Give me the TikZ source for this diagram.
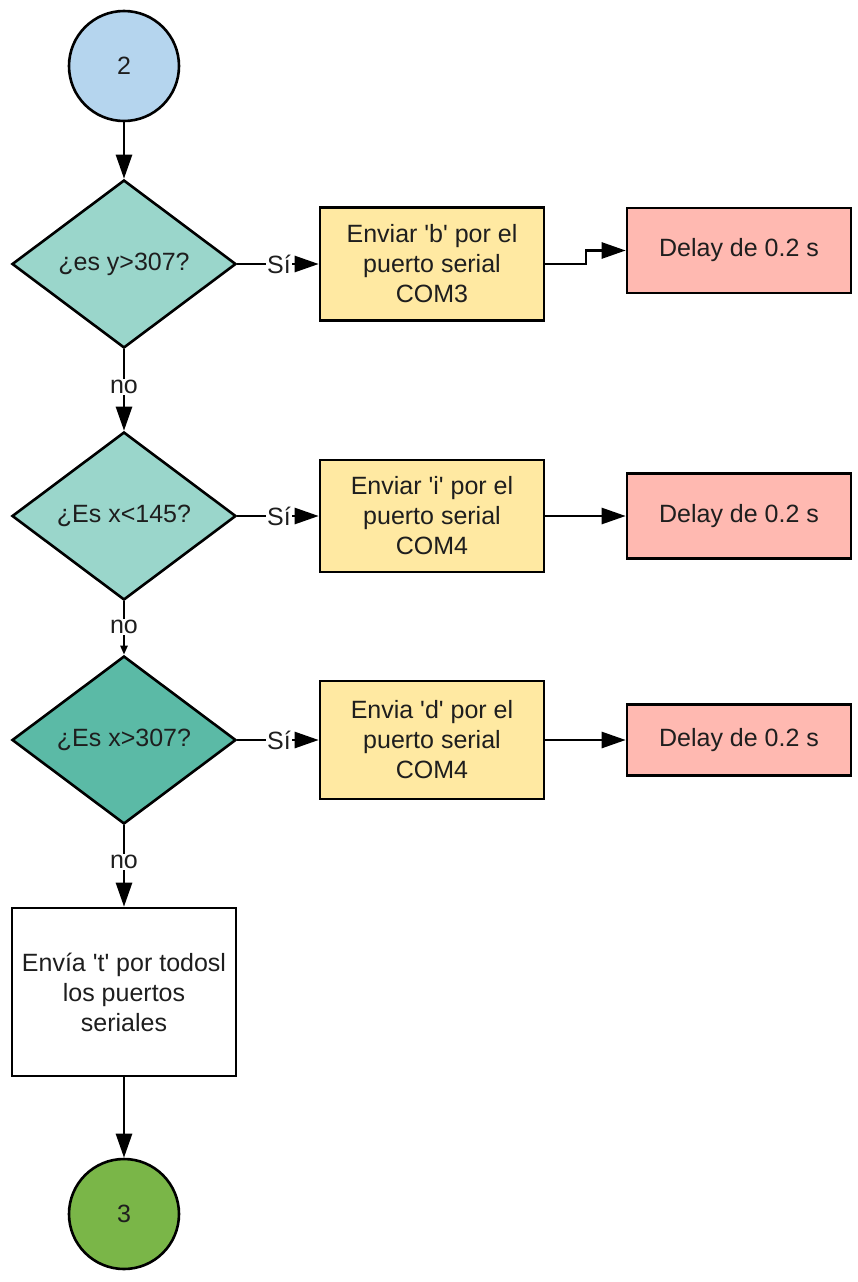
\documentclass[tikz,border=0pt]{standalone}
\usepackage{fontspec}
\setmainfont{Liberation Sans}
\usetikzlibrary{shapes.geometric,arrows.meta}
\definecolor{cblue}{RGB}{181,213,238}
\definecolor{cteal}{RGB}{154,214,203}
\definecolor{cteald}{RGB}{91,186,166}
\definecolor{cyel}{RGB}{255,233,162}
\definecolor{cpink}{RGB}{255,185,177}
\definecolor{cgreen}{RGB}{122,182,72}
\definecolor{ctext}{RGB}{30,30,30}
\newcommand{\sq}{\textquotesingle}
\begin{document}
\begin{tikzpicture}[x=1pt,y=-1pt,
  base/.style={draw=black,line width=2.6pt,text=ctext,font=\fontsize{25}{30}\selectfont,align=center,inner sep=0pt},
  term/.style={base,circle,minimum size=110pt},
  decision/.style={base,diamond,minimum width=224pt,minimum height=168pt},
  procbox/.style={base,rectangle,minimum width=224pt,minimum height=112pt},
  delaybox/.style={base,rectangle,minimum width=224pt,minimum height=85pt,fill=cpink},
  lbl/.style={fill=white,text=ctext,font=\fontsize{25}{26}\selectfont,inner sep=1pt},
  conn/.style={line width=2.6pt},
  arr/.style={line width=2.6pt,-{Triangle[length=24pt,width=16pt]}},
  arrs/.style={line width=2.6pt,-{Triangle[length=9pt,width=7pt]}}
]
\useasboundingbox[fill=white] (0,0) rectangle (858,1282);

\node[term,fill=cblue] (c2) at (124,66) {2};
\node[decision,fill=cteal] (d1) at (124,264) {¿es y>307?};
\node[decision,fill=cteal] (d2) at (124,516) {¿Es x<145?};
\node[decision,fill=cteald] (d3) at (124,740) {¿Es x>307?};
\node[procbox,fill=white,minimum height=168pt] (b4) at (124,992) {Envía \sq t\sq{} por todosl\\los puertos\\seriales};
\node[term,fill=cgreen] (c3) at (124,1214) {3};

\node[procbox,fill=cyel,minimum height=113pt] (b1) at (432,264) {Enviar \sq b\sq{} por el\\puerto serial\\COM3};
\node[procbox,fill=cyel] (b2) at (432,516) {Enviar \sq i\sq{} por el\\puerto serial\\COM4};
\node[procbox,fill=cyel,minimum height=118pt] (b3) at (432,740) {Envia \sq d\sq{} por el\\puerto serial\\COM4};

\node[delaybox] (e1) at (739,250.5) {Delay de 0.2 s};
\node[delaybox] (e2) at (739,516) {Delay de 0.2 s};
\node[delaybox,minimum height=71pt] (e3) at (739,740) {Delay de 0.2 s};

% Si labels
\node[lbl] (s1) at (279,264) {Sí};
\node[lbl] (s2) at (279,516) {Sí};
\node[lbl] (s3) at (279,740) {Sí};
% no labels
\node[lbl] (n1) at (124,387) {no};
\node[lbl] (n2) at (124,627) {no};
\node[lbl] (n3) at (124,862) {no};

\draw[arr] (c2) -- (d1);
\draw[conn] (d1.east) -- (s1.west);
\draw[arr] (s1.east) -- (b1.west);
\draw[conn] (d2.east) -- (s2.west);
\draw[arr] (s2.east) -- (b2.west);
\draw[conn] (d3.east) -- (s3.west);
\draw[arr] (s3.east) -- (b3.west);

\coordinate (j1) at (586,264);
\draw[arr] (b1.east) -- (j1) |- (e1.west);
\draw[arr] (b2.east) -- (e2.west);
\draw[arr] (b3.east) -- (e3.west);

\draw[conn] (d1.south) -- (n1.north);
\draw[arr] (n1.south) -- (d2.north);
\draw[conn] (d2.south) -- (n2.north);
\draw[arrs] (n2.south) -- (d3.north);
\draw[conn] (d3.south) -- (n3.north);
\draw[arr] (n3.south) -- (b4.north);
\draw[arr] (b4) -- (c3);
\end{tikzpicture}
\end{document}
